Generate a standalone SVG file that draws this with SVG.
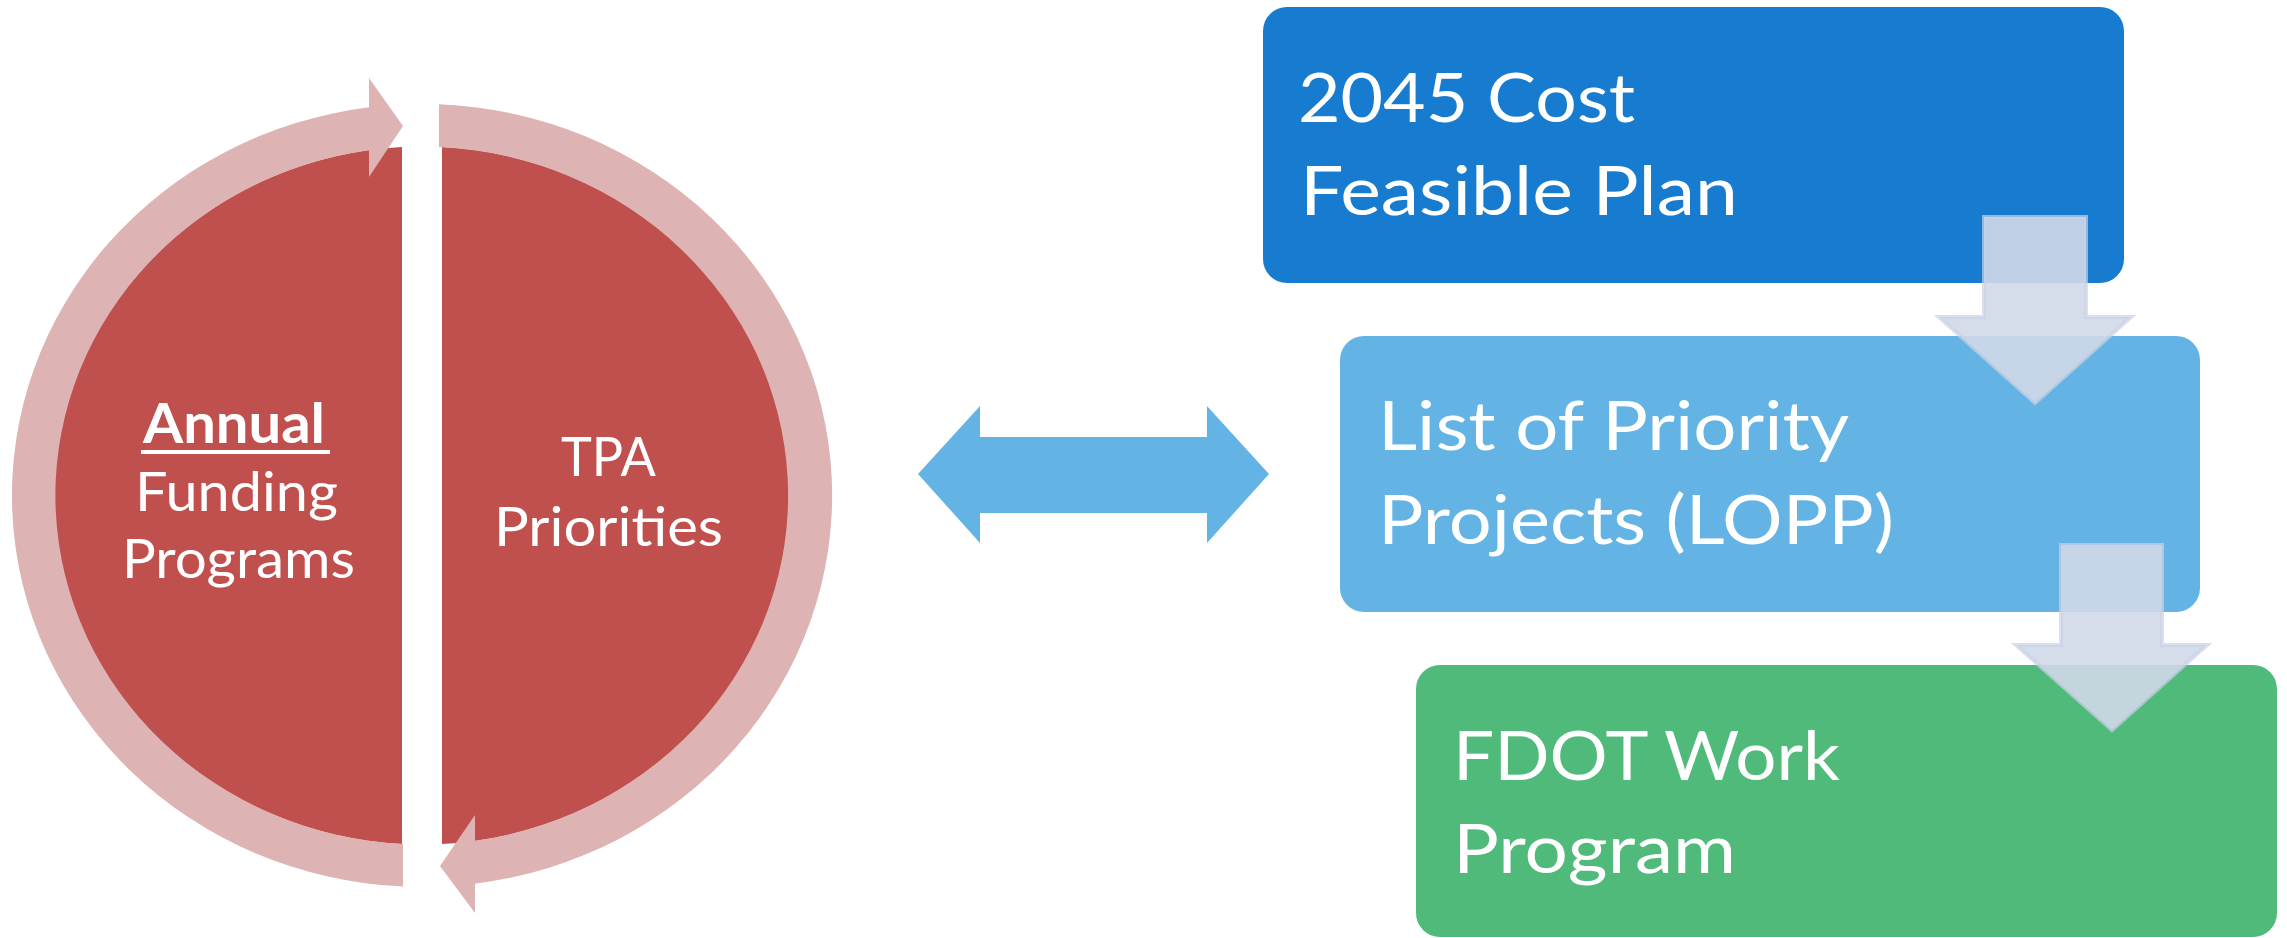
<svg xmlns="http://www.w3.org/2000/svg" width="2287" height="938" viewBox="0 0 2287 938">
  <style>
    .half { fill: #C0504D; }
    .ring { fill: #DDB3B3; }
    .t { font-family: Lato, "Open Sans", "Liberation Sans", sans-serif; fill: #FFFFFF; }
    .tc { font-size: 55px; }
    .tb { font-size: 68px; }
    .down { fill: #D0D8E8; fill-opacity: 0.9; stroke: #C9D2E5; stroke-opacity: 0.7; stroke-width: 4; stroke-linejoin: miter; }
  </style>
  <rect width="2287" height="938" fill="#FFFFFF"/>

  <g id="annual-funding-programs">
    <path class="half" d="M 402 147 A 367 349 0 0 0 402 844 Z"/>
    <text class="t tc" x="143" y="443" font-weight="bold" textLength="182" lengthAdjust="spacingAndGlyphs">Annual</text>
    <rect x="141" y="450" width="189" height="4" fill="#FFFFFF"/>
    <text class="t tc" x="135" y="511" textLength="203" lengthAdjust="spacingAndGlyphs">Funding</text>
    <text class="t tc" x="122" y="578" textLength="233" lengthAdjust="spacingAndGlyphs">Programs</text>
  </g>

  <g id="tpa-priorities">
    <path class="half" d="M 442 147 A 367 349 0 0 1 442 844 Z"/>
    <text class="t tc" x="561" y="476" textLength="95" lengthAdjust="spacingAndGlyphs">TPA</text>
    <text class="t tc" x="494" y="546" textLength="229" lengthAdjust="spacingAndGlyphs">Priorities</text>
  </g>

  <g id="cost-feasible-plan">
    <rect x="1263" y="7" width="861" height="276" rx="24" ry="24" fill="#177CD0"/>
    <text class="t tb" x="1298" y="122" textLength="337" lengthAdjust="spacingAndGlyphs">2045 Cost</text>
    <text class="t tb" x="1300" y="215" textLength="438" lengthAdjust="spacingAndGlyphs">Feasible Plan</text>
  </g>

  <g id="lopp">
    <rect x="1340" y="336" width="860" height="276" rx="24" ry="24" fill="#63B4E4"/>
    <text class="t tb" x="1378" y="450" textLength="471" lengthAdjust="spacingAndGlyphs">List of Priority</text>
    <text class="t tb" x="1378" y="544" textLength="516" lengthAdjust="spacingAndGlyphs">Projects (LOPP)</text>
  </g>

  <g id="fdot-work-program">
    <rect x="1416" y="665" width="861" height="272" rx="24" ry="24" fill="#4FBA79"/>
    <text class="t tb" x="1453" y="780" textLength="387" lengthAdjust="spacingAndGlyphs">FDOT Work</text>
    <text class="t tb" x="1453" y="873" textLength="283" lengthAdjust="spacingAndGlyphs">Program</text>
  </g>

  <g id="connectors">
    <path class="ring" d="M 403 886.6 A 410 391.5 0 0 1 369 107.3 L 369 78 L 403 126 L 369 177 L 369 150.2 A 367 349 0 0 0 403 844 Z"/>
    <path class="ring" d="M 439 104.3 A 410 391.5 0 0 1 475 883.7 L 475 913 L 440 866 L 475 815 L 475 840.8 A 367 349 0 0 0 439 147 Z"/>
    <path fill="#63B4E4" d="M 918 474 L 980 406 L 980 437 L 1207 437 L 1207 406 L 1269 474 L 1207 543 L 1207 513 L 980 513 L 980 543 Z"/>
    <path class="down" d="M 1984 217 L 2086 217 L 2086 317 L 2131 317 L 2035 403 L 1939 317 L 1984 317 Z"/>
    <path class="down" d="M 2061 545 L 2162 545 L 2162 645 L 2207 645 L 2112 730 L 2016 645 L 2061 645 Z"/>
  </g>
</svg>
